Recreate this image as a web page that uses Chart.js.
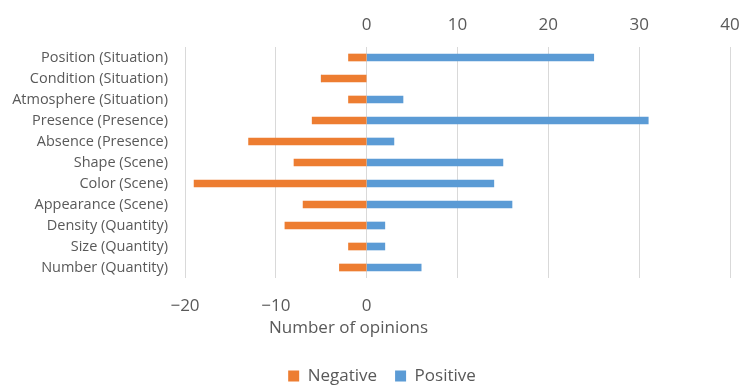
<!DOCTYPE html>
<html>
<head>
<meta charset="utf-8">
<style>
  html, body { margin: 0; padding: 0; background: #ffffff; }
  #wrap { width: 745px; height: 385px; }
</style>
<script src="https://cdn.jsdelivr.net/npm/chart.js@4/dist/chart.umd.min.js"></script>
</head>
<body>
<div id="wrap"><canvas id="chart" width="745" height="385"></canvas></div>
<script>
// Opinion categories, listed top to bottom
const categories = [
  'Position (Situation)',
  'Condition (Situation)',
  'Atmosphere (Situation)',
  'Presence (Presence)',
  'Absence (Presence)',
  'Shape (Scene)',
  'Color (Scene)',
  'Appearance (Scene)',
  'Density (Quantity)',
  'Size (Quantity)',
  'Number (Quantity)'
];
// Counts of negative opinions (plotted to the left of zero)
const negativeValues = [-2, -5, -2, -6, -13, -8, -19, -7, -9, -2, -3];
// Counts of positive opinions
const positiveValues = [25, 0, 4, 31, 3, 15, 14, 16, 2, 2, 6];
// Value axis range and step
const axisMin = -20;
const axisMax = 40;
const axisStep = 10;
const axisTitle = 'Number of opinions';

const textColor = '#595959';
const gridColor = '#d9d9d9';
const fontFamily = '"Open Sans", "Noto Sans", sans-serif';

function fmt(v) {
  return v < 0 ? '\u2212' + Math.abs(v) : String(v);
}

// Pulls the legend a little lower and to the right of its default spot
const legendPlacement = {
  id: 'legendPlacement',
  beforeInit(chart) {
    const lg = chart.legend;
    if (lg) {
      const fit = lg.fit;
      lg.fit = function () {
        fit.call(this);
        this.height -= 9.5;
      };
    }
  },
  afterLayout(chart) {
    const lg = chart.legend;
    if (lg) {
      lg.left += 17;
      lg.right += 17;
    }
  }
};

// Value-axis caption, set under the tick labels left of the plot centre
const axisCaption = {
  id: 'axisCaption',
  afterDraw(chart) {
    const { ctx, chartArea } = chart;
    const x = chartArea.left + (chartArea.right - chartArea.left) * 0.3;
    const y = chartArea.bottom + 50;
    ctx.save();
    ctx.font = '17px ' + fontFamily;
    ctx.fillStyle = textColor;
    ctx.textAlign = 'center';
    ctx.textBaseline = 'middle';
    ctx.fillText(axisTitle, x, y);
    ctx.restore();
  }
};

// Keep the end tick labels from shrinking the plot width
function noEdgePadding(s) {
  s.paddingLeft = 0;
  s.paddingRight = 0;
}

new Chart(document.getElementById('chart'), {
  type: 'bar',
  data: {
    labels: categories,
    datasets: [
      {
        label: 'Negative',
        data: negativeValues,
        backgroundColor: '#ED7D31',
        barThickness: 7,
        xAxisID: 'x'
      },
      {
        label: 'Positive',
        data: positiveValues,
        backgroundColor: '#5B9BD5',
        barThickness: 7,
        xAxisID: 'x'
      }
    ]
  },
  plugins: [legendPlacement, axisCaption],
  options: {
    indexAxis: 'y',
    responsive: false,
    animation: false,
    devicePixelRatio: 1,
    layout: { padding: { left: 0, right: 15, top: 0, bottom: 0 } },
    plugins: {
      legend: {
        position: 'bottom',
        labels: {
          boxWidth: 11,
          boxHeight: 11,
          padding: 18,
          color: textColor,
          font: { family: fontFamily, size: 17 }
        }
      },
      tooltip: { enabled: false }
    },
    scales: {
      x: {
        position: 'top',
        stacked: true,
        min: axisMin,
        max: axisMax,
        border: { display: false },
        grid: { color: gridColor, lineWidth: 1, drawTicks: false },
        ticks: {
          stepSize: axisStep,
          padding: 12,
          color: textColor,
          font: { family: fontFamily, size: 17 },
          callback: (v) => (v >= 0 ? fmt(v) : '')
        },
        afterFit: (s) => { s.height = 47; noEdgePadding(s); }
      },
      x2: {
        type: 'linear',
        position: 'bottom',
        min: axisMin,
        max: axisMax,
        border: { display: false },
        grid: { display: false, drawTicks: false },
        ticks: {
          stepSize: axisStep,
          padding: 18,
          color: textColor,
          font: { family: fontFamily, size: 17 },
          callback: (v) => (v <= 0 ? fmt(v) : '')
        },
        afterFit: (s) => { s.height = 71.5; noEdgePadding(s); }
      },
      y: {
        stacked: true,
        border: { display: false },
        grid: { display: false, drawTicks: false },
        ticks: {
          padding: 17,
          color: textColor,
          font: { family: fontFamily, size: 14.5 }
        },
        afterFit: (s) => { s.width = 185; }
      }
    }
  }
});
</script>
</body>
</html>
